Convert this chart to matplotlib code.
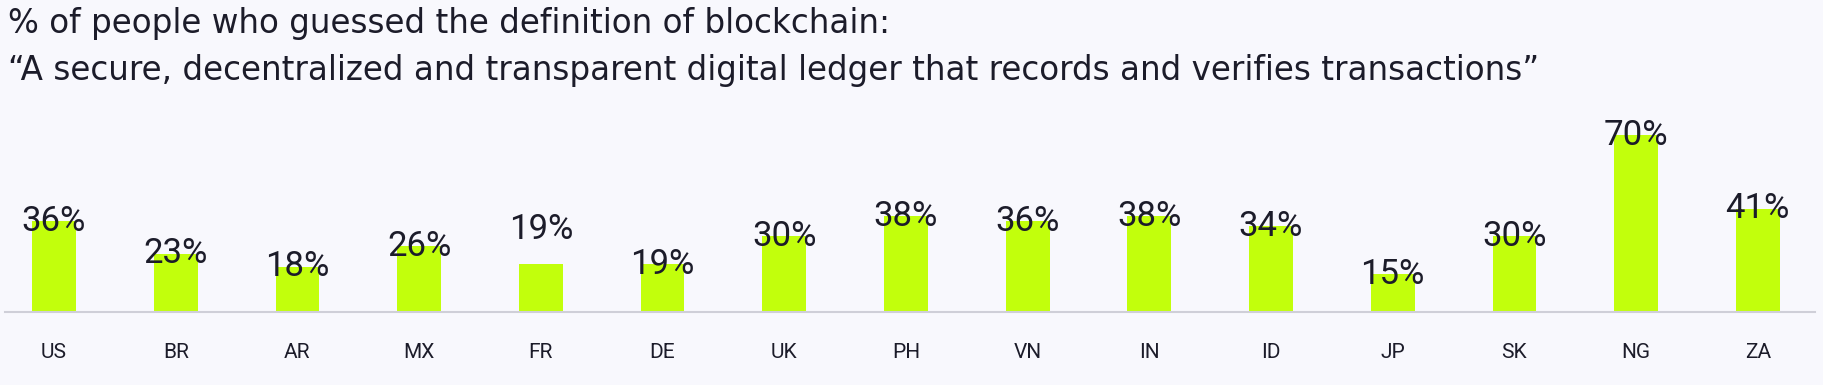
import matplotlib.pyplot as plt
import numpy as np

countries = ['US', 'BR', 'AR', 'MX', 'FR', 'DE', 'UK', 'PH', 'VN', 'IN',
             'ID', 'JP', 'SK', 'NG', 'ZA']
values = [36, 23, 18, 26, 19, 19, 30, 38, 36, 38, 34, 15, 30, 70, 41]
title_lines = ['% of people who guessed the definition of blockchain:',
               '\u201cA secure, decentralized and transparent digital ledger '
               'that records and verifies transactions\u201d']

bg = '#f8f8fd'
bar_color = '#c2ff0c'
text_color = '#1c1c2a'

W, H = 1823, 385
fig = plt.figure(figsize=(W / 100, H / 100), dpi=100, facecolor=bg)

ax = fig.add_axes([5 / W, 73 / H, 1810 / W, 212 / H], facecolor=bg)
x = np.arange(len(countries))
ax.bar(x, values, width=0.36, color=bar_color, zorder=2)

# the FR label sits a bit higher than the others in the original
nudge = {'FR': 35}
for xi, v, c in zip(x, values, countries):
    ax.annotate(f'{v}%', (xi, v), xytext=(0, nudge.get(c, 0) * 0.72),
                textcoords='offset points', ha='center', va='center',
                fontsize=25, color=text_color, family='Roboto', zorder=3)

ax.set_xlim(-0.403, 14.47)
ax.set_ylim(0, 84)
ax.set_xticks(x)
ax.set_xticklabels(countries, fontsize=15, color=text_color, family='Roboto')
ax.tick_params(axis='x', length=0, pad=22)
ax.set_yticks([])
for side in ['top', 'right', 'left']:
    ax.spines[side].set_visible(False)
ax.spines['bottom'].set_color('#cfcfd8')
ax.spines['bottom'].set_linewidth(1.5)

fig.text(8 / W, 1 - 33 / H, title_lines[0], fontsize=23.5, color=text_color,
         family='DejaVu Sans', va='baseline')
fig.text(8 / W, 1 - 80 / H, title_lines[1], fontsize=23.5, color=text_color,
         family='DejaVu Sans', va='baseline')

fig.savefig('out.png', dpi=100, facecolor=bg)
